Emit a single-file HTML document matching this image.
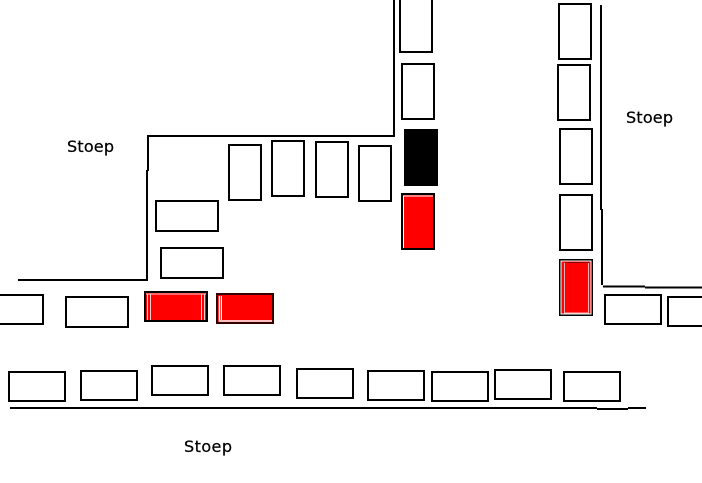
<!DOCTYPE html>
<html><head><meta charset="utf-8"><style>
html,body{margin:0;padding:0;background:#fff;width:702px;height:483px;overflow:hidden}
svg{display:block}
text{font-family:"DejaVu Sans",sans-serif;font-size:16px;fill:#000;stroke:#000;stroke-width:.25px}
</style></head><body>
<svg width="702" height="483" viewBox="0 0 702 483" xmlns="http://www.w3.org/2000/svg">
<rect width="702" height="483" fill="#fff"/>
<g fill="none" stroke="#000" stroke-width="2">
<path d="M394 0V136H147"/>
<path d="M148 135V171"/>
<path d="M147 170V280H18"/>
<path d="M601 5V210"/>
<path d="M602 209V285"/>
<path d="M603 286.500H645"/>
<path d="M645 287.500H702"/>
<path d="M10 408H597"/>
<path d="M597 409H628"/>
<path d="M628 408H646"/>
<!-- top row parking -->
<rect x="229" y="145" width="32" height="55"/>
<rect x="272" y="141" width="32" height="55"/>
<rect x="316" y="142" width="32" height="55"/>
<rect x="359" y="146" width="32" height="55"/>
<rect x="156" y="201" width="62" height="30"/>
<rect x="161" y="248" width="62" height="30"/>
<!-- centre column -->
<rect x="400" y="-3" width="32" height="55"/>
<rect x="402" y="64" width="32" height="55"/>
<!-- right column -->
<rect x="559" y="4" width="32" height="55"/>
<rect x="558" y="65" width="32" height="55"/>
<rect x="560" y="129" width="32" height="55"/>
<rect x="560" y="195" width="32" height="55"/>
<!-- left row -->
<rect x="-18" y="295" width="61" height="29"/>
<rect x="66" y="297" width="62" height="30"/>
<!-- right row -->
<rect x="605" y="295" width="56" height="29"/>
<rect x="668" y="297" width="56" height="29"/>
<!-- bottom row -->
<rect x="9" y="372" width="56" height="29"/>
<rect x="81" y="371" width="56" height="29"/>
<rect x="152" y="366" width="56" height="29"/>
<rect x="224" y="366" width="56" height="29"/>
<rect x="297" y="369" width="56" height="29"/>
<rect x="368" y="371" width="56" height="29"/>
<rect x="432" y="372" width="56" height="29"/>
<rect x="495" y="370" width="56" height="29"/>
<rect x="564" y="372" width="56" height="29"/>
</g>
<rect x="404" y="129" width="34" height="57" fill="#000"/>
<!-- red cars -->
<rect x="402" y="194" width="32" height="55" fill="#fe0000" stroke="#000" stroke-width="2"/>
<path d="M403.500 248V196H433" fill="none" stroke="#fff" stroke-width="1"/>
<rect x="560" y="260" width="32" height="55" fill="#fe0000" stroke="#000" stroke-width="2"/>
<path d="M561 261H591V314H561Z" fill="none" stroke="#fff" stroke-width="1"/>
<path d="M565 262H589V263H565Z" fill="#800"/>
<path d="M564.500 263V313M588.500 263V313" stroke="#f7b4b4" stroke-width="1"/>
<path d="M564 313H589" stroke="#f7b4b4" stroke-width="1"/>
<rect x="145" y="292" width="62" height="29" fill="#fe0000" stroke="#000" stroke-width="2"/>
<path d="M146 294H206M147.500 294V320M150.500 294V320M201.500 294V320M204.500 294V320" fill="none" stroke="#fbd0d0" stroke-width="1"/>
<rect x="217" y="294" width="56" height="29" fill="#fe0000" stroke="#300" stroke-width="2"/>
<path d="M219.500 296V321H272" fill="none" stroke="#fff" stroke-width="1.500"/>
<path d="M221.500 296V320" stroke="#fff" stroke-width="1"/>
<text x="67" y="152" textLength="47">Stoep</text>
<text x="626" y="123" textLength="47">Stoep</text>
<text x="184" y="452" textLength="48">Stoep</text>
</svg>
</body></html>
